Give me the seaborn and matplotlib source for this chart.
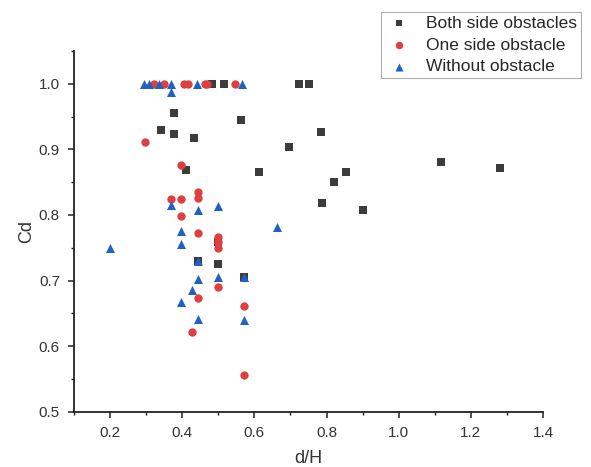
import numpy as np
import pandas as pd
import matplotlib
matplotlib.use("Agg")
import matplotlib.pyplot as plt
from matplotlib.ticker import MultipleLocator
import seaborn as sns

# Both side obstacles
both_x = [0.378, 0.34, 0.378, 0.432, 0.41, 0.562, 0.725, 0.751, 0.484, 0.517,
          0.695, 0.784, 0.612, 0.82, 0.855, 0.787, 0.90, 1.117, 1.281,
          0.5, 0.443, 0.57, 0.5]
both_y = [0.955, 0.929, 0.923, 0.918, 0.868, 0.945, 1.0, 1.0, 1.0, 1.0,
          0.903, 0.927, 0.865, 0.851, 0.866, 0.819, 0.807, 0.881, 0.872,
          0.725, 0.73, 0.706, 0.759]

# One side obstacle
one_x = [0.323, 0.351, 0.406, 0.415, 0.462, 0.47, 0.545,
         0.298, 0.398, 0.37, 0.398, 0.443, 0.443, 0.398, 0.443,
         0.5, 0.5, 0.5, 0.5, 0.443, 0.57, 0.426, 0.57]
one_y = [1.0, 1.0, 1.0, 1.0, 1.0, 1.0, 1.0,
         0.911, 0.876, 0.825, 0.825, 0.835, 0.826, 0.799, 0.773,
         0.767, 0.759, 0.750, 0.690, 0.674, 0.662, 0.621, 0.556]

# Without obstacle
without_x = [0.295, 0.309, 0.337, 0.37, 0.44, 0.567, 0.37,
             0.2, 0.37, 0.443, 0.5, 0.398, 0.398, 0.662, 0.443,
             0.5, 0.57, 0.443, 0.426, 0.398, 0.443, 0.57]
without_y = [1.0, 1.0, 1.0, 1.0, 1.0, 1.0, 0.988,
             0.750, 0.815, 0.807, 0.813, 0.776, 0.756, 0.782, 0.730,
             0.705, 0.705, 0.702, 0.685, 0.668, 0.641, 0.640]

labels = ["Both side obstacles", "One side obstacle", "Without obstacle"]
colors = ["#3c3c3c", "#e03f40", "#1f62c4"]
markers = ["s", "o", "^"]
sizes = [28, 36, 42]

df = pd.concat([
    pd.DataFrame({"d/H": both_x, "Cd": both_y, "case": labels[0]}),
    pd.DataFrame({"d/H": one_x, "Cd": one_y, "case": labels[1]}),
    pd.DataFrame({"d/H": without_x, "Cd": without_y, "case": labels[2]}),
], ignore_index=True)

sns.set_style("ticks")
plt.rcParams["font.family"] = ["Liberation Sans", "DejaVu Sans"]

fig = plt.figure(figsize=(5.91, 4.67), dpi=100)
ax = fig.add_axes([0.125, 0.118, 0.794, 0.773])

for lab, col, mk, sz in zip(labels, colors, markers, sizes):
    sub = df[df["case"] == lab]
    sns.scatterplot(data=sub, x="d/H", y="Cd", ax=ax, color=col, marker=mk,
                    s=sz, linewidth=0, label=lab, zorder=3)

ax.set_xlim(0.1, 1.4)
ax.set_ylim(0.5, 1.05)
ax.xaxis.set_minor_locator(MultipleLocator(0.1))
ax.yaxis.set_minor_locator(MultipleLocator(0.05))
xt = np.arange(0.2, 1.41, 0.2)
yt = np.arange(0.5, 1.01, 0.1)
ax.set_xticks(xt)
ax.set_yticks(yt)
ax.set_xticklabels([f"{v:.1f}" for v in xt])
ax.set_yticklabels([f"{v:.1f}" for v in yt])

for side in ["top", "right"]:
    ax.spines[side].set_visible(False)
for side in ["left", "bottom"]:
    ax.spines[side].set_color("#222222")
    ax.spines[side].set_linewidth(1.3)

ax.tick_params(axis="both", which="major", direction="out", length=4, width=1.1,
               color="#222222", labelsize=11, labelcolor="#333333", pad=6)
ax.tick_params(axis="both", which="minor", direction="out", length=2.5, width=1.0,
               color="#222222")

ax.set_xlabel("d/H", fontsize=13, color="#333333", labelpad=7)
ax.set_ylabel("Cd", fontsize=13, color="#333333", labelpad=3)

leg = ax.legend(loc="upper right", bbox_to_anchor=(0.983, 0.974),
                bbox_transform=fig.transFigure, frameon=True, fancybox=False,
                fontsize=12.5, handletextpad=0.8, handlelength=1.6,
                borderpad=0.2, labelspacing=0.38, markerscale=0.9,
                borderaxespad=0)
leg.get_frame().set_edgecolor("#999999")
leg.get_frame().set_linewidth(0.8)

fig.savefig("out.png", dpi=100)
